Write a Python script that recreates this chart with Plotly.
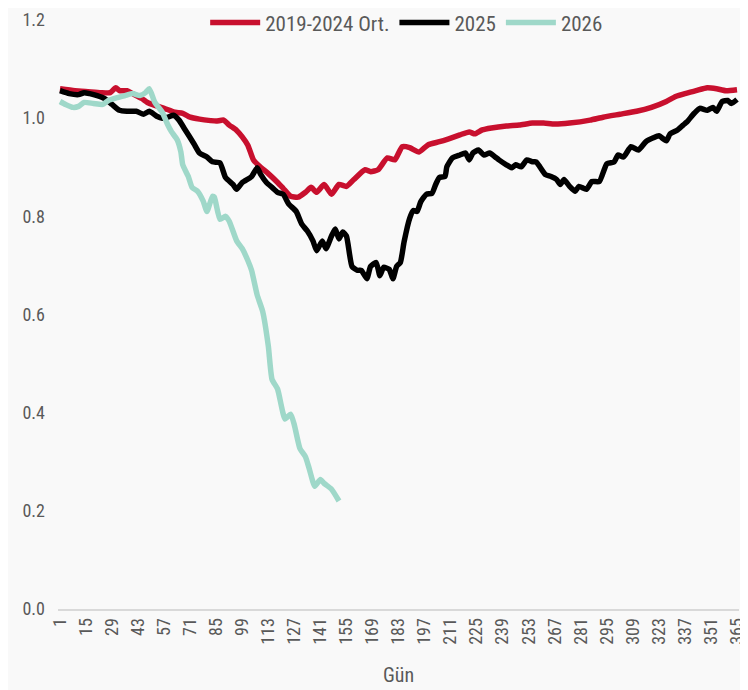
import plotly.graph_objects as go

# ---- data ----
avg_days = [1, 9, 16, 23, 28, 31, 33, 37, 40, 45, 48, 52, 57, 63, 67, 71, 76, 82, 85, 89, 92, 96, 99,
            102, 105, 108, 113, 118, 121, 125, 129, 133, 136, 139, 143, 147, 151, 155, 159, 165, 168,
            172, 177, 181, 185, 189, 194, 199, 205, 210, 216, 221, 224, 228, 233, 241, 248, 255, 261,
            267, 275, 286, 293, 302, 311, 319, 327, 332, 337, 343, 349, 354, 359, 365]
avg_vals = [1.060, 1.056, 1.054, 1.052, 1.052, 1.062, 1.056, 1.056, 1.050, 1.040, 1.032, 1.026, 1.020,
            1.012, 1.010, 1.002, 0.998, 0.995, 0.994, 0.996, 0.986, 0.975, 0.962, 0.945, 0.915, 0.903,
            0.887, 0.869, 0.857, 0.841, 0.839, 0.849, 0.859, 0.849, 0.865, 0.845, 0.865, 0.861, 0.875,
            0.895, 0.891, 0.895, 0.919, 0.915, 0.942, 0.940, 0.931, 0.946, 0.952, 0.958, 0.966, 0.972,
            0.968, 0.976, 0.980, 0.984, 0.986, 0.990, 0.990, 0.988, 0.990, 0.996, 1.002, 1.008, 1.014,
            1.022, 1.034, 1.044, 1.050, 1.056, 1.062, 1.060, 1.056, 1.058]

y2025_days = [1, 6, 11, 14, 17, 21, 25, 29, 33, 37, 42, 46, 49, 53, 56, 59, 62, 65, 68, 73, 76, 80, 83,
              87, 90, 94, 96, 99, 104, 107, 109, 112, 115, 118, 121, 124, 128, 131, 134, 137, 139, 142,
              144, 147, 149, 151, 153, 155, 158, 161, 163, 166, 168, 171, 173, 175, 178, 180, 182, 184,
              186, 189, 191, 193, 195, 198, 201, 203, 205, 208, 209, 212, 216, 219, 221, 223, 226, 229,
              232, 235, 237, 241, 244, 246, 249, 252, 255, 257, 259, 262, 265, 268, 270, 272, 275, 278,
              280, 284, 287, 291, 295, 299, 301, 304, 308, 312, 316, 320, 323, 327, 329, 333, 336, 338,
              342, 345, 349, 352, 354, 357, 360, 362, 365]
y2025_vals = [1.056, 1.050, 1.048, 1.052, 1.050, 1.046, 1.040, 1.028, 1.016, 1.014, 1.014, 1.008, 1.014,
              1.004, 1.000, 1.002, 1.006, 0.996, 0.978, 0.948, 0.929, 0.921, 0.911, 0.909, 0.879, 0.865,
              0.855, 0.869, 0.881, 0.899, 0.885, 0.869, 0.859, 0.849, 0.845, 0.825, 0.810, 0.784, 0.770,
              0.750, 0.730, 0.750, 0.734, 0.760, 0.774, 0.754, 0.768, 0.760, 0.698, 0.690, 0.690, 0.673,
              0.698, 0.706, 0.679, 0.696, 0.692, 0.673, 0.698, 0.706, 0.748, 0.796, 0.812, 0.810, 0.830,
              0.845, 0.847, 0.865, 0.879, 0.881, 0.901, 0.919, 0.925, 0.929, 0.915, 0.929, 0.935, 0.925,
              0.929, 0.921, 0.915, 0.905, 0.899, 0.905, 0.901, 0.915, 0.911, 0.911, 0.901, 0.885, 0.881,
              0.875, 0.865, 0.875, 0.861, 0.851, 0.861, 0.855, 0.871, 0.871, 0.907, 0.911, 0.925, 0.921,
              0.942, 0.935, 0.952, 0.960, 0.964, 0.954, 0.968, 0.976, 0.986, 0.992, 1.010, 1.020, 1.016,
              1.022, 1.014, 1.034, 1.036, 1.030, 1.038]

y2026_days = [1, 4, 8, 11, 14, 19, 24, 27, 32, 36, 40, 44, 47, 49, 52, 56, 59, 61, 64, 66, 67, 70, 72,
              75, 78, 80, 83, 84, 87, 90, 92, 96, 99, 102, 104, 107, 110, 113, 115, 118, 122, 125, 127,
              130, 133, 135, 138, 141, 143, 147, 151]
y2026_vals = [1.034, 1.028, 1.022, 1.024, 1.032, 1.030, 1.028, 1.036, 1.042, 1.046, 1.050, 1.046, 1.052,
              1.060, 1.032, 1.012, 0.986, 0.972, 0.956, 0.931, 0.905, 0.881, 0.859, 0.851, 0.831, 0.810,
              0.841, 0.839, 0.794, 0.800, 0.790, 0.750, 0.734, 0.710, 0.690, 0.640, 0.606, 0.536, 0.468,
              0.448, 0.387, 0.397, 0.375, 0.327, 0.310, 0.286, 0.250, 0.264, 0.256, 0.244, 0.220]

series_names = ["2019-2024 Ort.", "2025", "2026"]
series_colors = ["#c8102e", "#000000", "#9fd8c9"]
tick_days = list(range(1, 366, 14))
y_ticks = [0.0, 0.2, 0.4, 0.6, 0.8, 1.0, 1.2]

FONT = "Roboto Condensed, Liberation Sans Narrow, Roboto, sans-serif"
TXT = "#595959"

fig = go.Figure()
for name, color, xs, ys in zip(series_names, series_colors,
                               [avg_days, y2025_days, y2026_days],
                               [avg_vals, y2025_vals, y2026_vals]):
    fig.add_trace(go.Scatter(x=xs, y=ys, name=name, mode="lines",
                             line=dict(color=color, width=5.5, shape="spline", smoothing=0.5)))

# page has an 8px body margin, so the figure is 8px smaller and offset
fig.update_layout(
    template="none",
    width=740, height=682,
    margin=dict(l=50, r=9, t=12, b=81, autoexpand=False),
    paper_bgcolor="#f9f9f9", plot_bgcolor="#f9f9f9",
    font=dict(family=FONT, color=TXT, size=18),
    showlegend=True,
    legend=dict(orientation="h", x=0.512, xanchor="center", y=0.995, yanchor="middle",
                font=dict(size=21, color=TXT), bgcolor="rgba(0,0,0,0)", itemwidth=50,
                tracegroupgap=0),
    xaxis=dict(range=[-0.07, 366.07], tickmode="array", tickvals=tick_days,
               ticktext=[str(d) for d in tick_days], tickangle=-90, automargin=False,
               ticklabeloverflow="allow",
               tickfont=dict(size=18, color=TXT), showgrid=False, zeroline=False,
               showline=True, linecolor="#d9d9d9", linewidth=2, ticks="",
               title=dict(text="Gün", font=dict(size=20, color=TXT), standoff=24)),
    yaxis=dict(range=[0, 1.2], tickmode="array", tickvals=y_ticks, automargin=False,
               ticklabeloverflow="allow",
               ticktext=[f"{v:.1f}" for v in y_ticks], tickfont=dict(size=18, color=TXT),
               showgrid=False, zeroline=False, showline=False, ticks="", ticklabelstandoff=12),
)

fig.write_html("out.html")
